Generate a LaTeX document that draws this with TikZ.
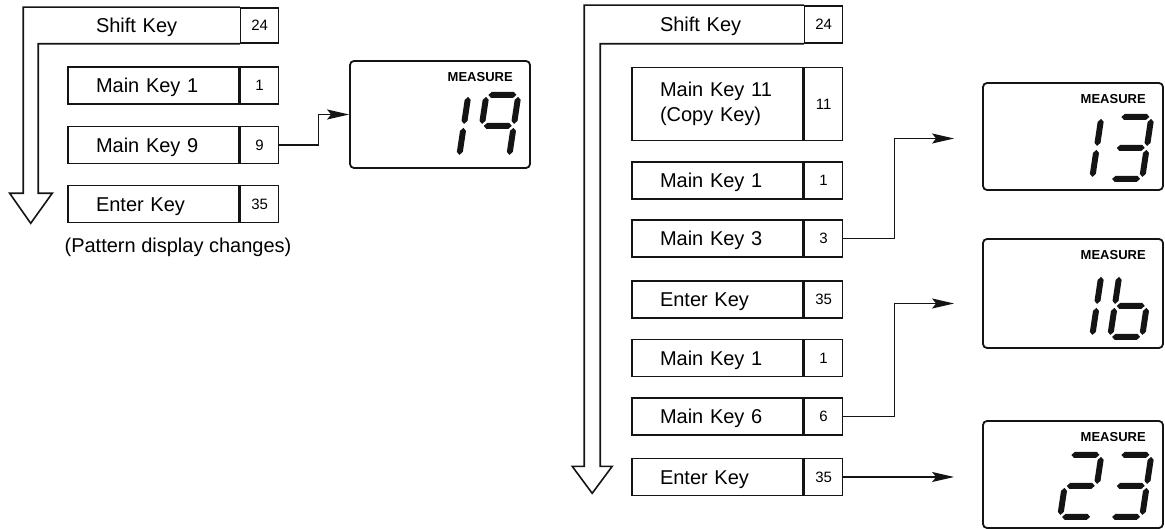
\documentclass[tikz,border=0pt]{standalone}
\usepackage{fontspec}
\setmainfont{Liberation Sans}
\usepackage{tikz}
\usetikzlibrary{
  arrows.meta,
  positioning,
  calc
}
\definecolor{xink}{RGB}{20,20,20}

% seven-segment pieces (local pt units, y up)
\newcommand{\hseg}[3]{\fill[xink] (#1,#3) -- ++(3,3) -- ({#2-3},{#3+3}) -- (#2,#3) -- ({#2-3},{#3-3}) -- ({#1+3},{#3-3}) -- cycle;}
\newcommand{\vseg}[3]{\fill[xink] (#1,#2) -- ++(3,3) -- ({#1+3},{#3-3}) -- (#1,#3) -- ({#1-3},{#3-3}) -- ({#1-3},{#2+3}) -- cycle;}
\newcommand{\sega}{\hseg{2}{30}{62}}
\newcommand{\segb}{\vseg{32}{33}{60}}
\newcommand{\segc}{\vseg{32}{2}{29}}
\newcommand{\segd}{\hseg{2}{30}{0}}
\newcommand{\sege}{\vseg{0}{2}{29}}
\newcommand{\segf}{\vseg{0}{33}{60}}
\newcommand{\segg}{\hseg{2}{30}{31}}
\newcommand{\lcddigit}[2]{%
  \begin{scope}[shift={#1}, x=1pt, y=1pt, xslant=0.15]
    \foreach \sg in {#2} {\csname seg\sg\endcsname}
  \end{scope}}

\begin{document}
\begin{tikzpicture}[x=1pt, y=-1pt,
  keybox/.style={draw=xink, line width=1.6pt, minimum width=171pt, minimum height=37pt,
                 text width=115pt, align=left, inner xsep=0pt,
                 text height=14.5pt, text depth=0pt,
                 font=\fontsize{20}{25}\selectfont},
  numbox/.style={draw=xink, line width=1.6pt, minimum width=38pt, minimum height=37pt,
                 inner sep=1pt, font=\fontsize{15}{17}\selectfont},
  lcd/.style={draw=xink, line width=1.8pt, rounded corners=4pt,
              minimum width=180pt, minimum height=107pt},
  lcdlabel/.style={font=\fontsize{13}{15}\selectfont\bfseries, inner sep=0pt},
  arr/.style={-{Stealth[length=22pt, width=10pt, inset=4pt]}, line width=1.4pt, color=xink},
  hollow/.style={draw=xink, line width=1.6pt, line join=miter},
  note/.style={font=\fontsize{20}{24}\selectfont}
]
  \useasboundingbox (0,0) rectangle (1165,529);

  % left sequence
  \node[keybox, draw=none, minimum height=35pt] (shL) at (153.5,25.5) {Shift Key};
  \node[numbox, minimum height=35pt, right=0pt of shL] (nShL) {24};
  \node[keybox] (kL1) at (153.5,85.5)  {Main Key 1};
  \node[numbox, right=0pt of kL1] (nL1) {1};
  \node[keybox] (kL9) at (153.5,145)   {Main Key 9};
  \node[numbox, right=0pt of kL9] (nL9) {9};
  \node[keybox] (eL)  at (153.5,204)   {Enter Key};
  \node[numbox, right=0pt of eL] (nEL) {35};
  \node[note] (patL) at (178,247) {(Pattern display changes)};

  \coordinate (tipL) at ($(shL.south west |- eL.south)+(-36.5,0)$);
  \draw[hollow] (shL.south east) -- ($(shL.south west)+(-29,0)$) -- ($(tipL)+(7.5,-30)$)
    -- ++(14,0) -- (tipL) -- ($(tipL)+(-21,-30)$) -- ++(13.5,0)
    -- ($(shL.north west)+(-44,0)$) -- (shL.north east);

  % right sequence
  \node[keybox, draw=none] (shR) at (717.5,24.5) {Shift Key};
  \node[numbox, right=0pt of shR] (nShR) {24};
  \node[keybox, minimum height=73pt, text height=, text depth=] (kR11) at (717.5,104) {Main Key 11\\(Copy Key)};
  \node[numbox, minimum height=73pt, right=0pt of kR11] (nR11) {11};
  \node[keybox] (kR1)  at (717.5,180.5) {Main Key 1};
  \node[numbox, right=0pt of kR1] (nR1) {1};
  \node[keybox] (kR3)  at (717.5,238.5) {Main Key 3};
  \node[numbox, right=0pt of kR3] (nR3) {3};
  \node[keybox] (eR1)  at (717.5,299.5) {Enter Key};
  \node[numbox, right=0pt of eR1] (nER1) {35};
  \node[keybox] (kR1b) at (717.5,358)   {Main Key 1};
  \node[numbox, right=0pt of kR1b] (nR1b) {1};
  \node[keybox] (kR6)  at (717.5,416.5) {Main Key 6};
  \node[numbox, right=0pt of kR6] (nR6) {6};
  \node[keybox] (eR2)  at (717.5,477)   {Enter Key};
  \node[numbox, right=0pt of eR2] (nER2) {35};

  \coordinate (tipR) at ($(shR.south west |- eR2.south)+(-39,-3)$);
  \draw[hollow] (shR.south east) -- ($(shR.south west)+(-31,0)$) -- ($(tipR)+(8,-27)$)
    -- ++(12,0) -- (tipR) -- ($(tipR)+(-20,-27)$) -- ++(12,0)
    -- ($(shR.north west)+(-47,0)$) -- (shR.north east);

  % displays
  \node[lcd] (d19) at (440,114.5) {};
  \node[lcd] (d13) at (1073,136.5) {};
  \node[lcd, minimum height=109pt] (d16) at (1073,293.5) {};
  \node[lcd] (d23) at (1073,474.5) {};

  \foreach \d in {d19,d13,d16,d23} {
    \node[lcdlabel, below left=12pt and 18pt of \d.north east] (m\d) {MEASURE};
  }

  \lcddigit{($(d19.south west)+(78,-12)$)}{b,c}
  \lcddigit{($(d19.south west)+(128,-12)$)}{a,b,c,f,g}
  \lcddigit{($(d13.south west)+(78,-12)$)}{b,c}
  \lcddigit{($(d13.south west)+(128,-12)$)}{a,b,c,d,g}
  \lcddigit{($(d16.south west)+(78,-12)$)}{b,c}
  \lcddigit{($(d16.south west)+(128,-12)$)}{c,d,e,f,g}
  \lcddigit{($(d23.south west)+(78,-12)$)}{a,b,d,e,g}
  \lcddigit{($(d23.south west)+(128,-12)$)}{a,b,c,d,g}

  % connectors
  \coordinate (in13) at ($(d13.west)+(-28,2)$);
  \coordinate (in16) at ($(d16.west)+(-28,10)$);
  \coordinate (in23) at ($(d23.west)+(-28,2)$);

  \draw[arr] (nL9.east) -- ++(39,0) |- (d19.west);
  \draw[arr] (nR3.east) -- ++(51,0) |- (in13);
  \draw[arr] (nR6.east) -- ++(51,0) |- (in16);
  \draw[arr] (nER2.east) -- (in23 |- nER2.east);
\end{tikzpicture}
\end{document}
